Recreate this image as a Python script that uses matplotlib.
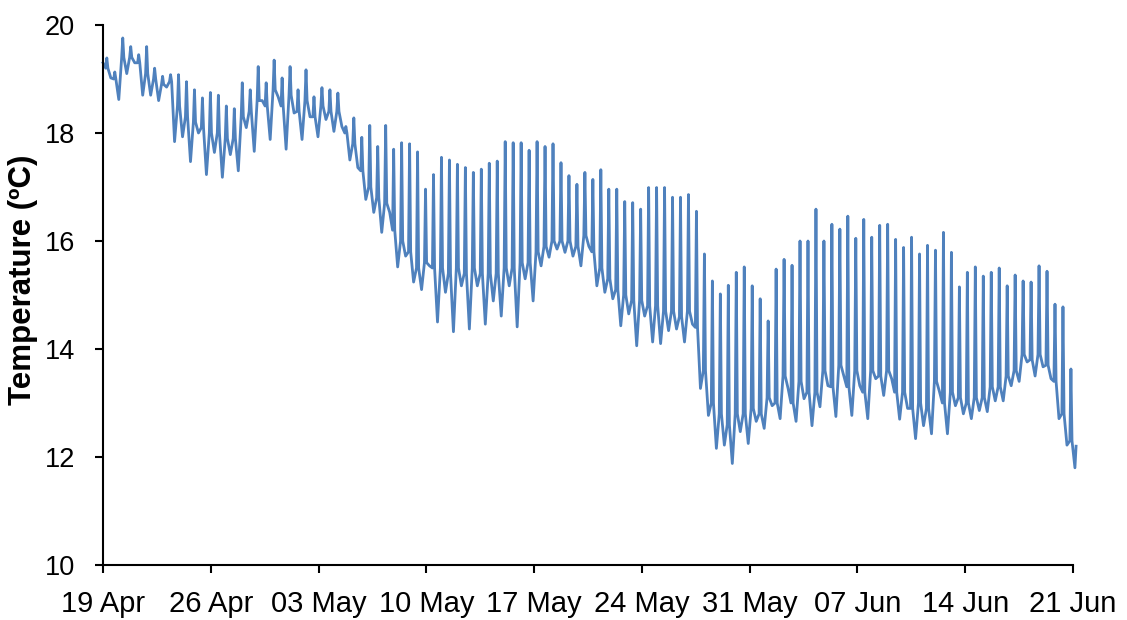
import matplotlib
matplotlib.use("Agg")
import matplotlib.pyplot as plt
import numpy as np

plt.rcParams['font.family'] = ['Liberation Sans', 'DejaVu Sans']

# ---- data ----
tick_days = [0, 7, 14, 21, 28, 35, 42, 49, 56, 63]
tick_labels = ['19 Apr', '26 Apr', '03 May', '10 May', '17 May',
               '24 May', '31 May', '07 Jun', '14 Jun', '21 Jun']
y_ticks = [10, 12, 14, 16, 18, 20]

first_peak_day = 0.248      # day of first tidal spike after 19 Apr 00:00
tide_period = 0.5175        # days per (semi-diurnal) cycle
start_value = 19.3
end_value = 12.2

# peak temperature of each tidal cycle
peaks = [
    19.39, 19.13, 19.76, 19.60, 19.45, 19.60, 19.20, 19.05, 19.08, 19.08,
    18.95, 18.80, 18.65, 18.75, 18.70, 18.50, 18.45, 18.93, 18.80, 19.23,
    18.93, 19.35, 19.02, 19.23, 18.80, 19.17, 18.67, 18.84, 18.80, 18.74,
    18.12, 18.28, 17.92, 18.14, 17.75, 18.14, 17.70, 17.82, 17.80, 17.65,
    16.96, 17.23, 17.55, 17.50, 17.42, 17.36, 17.27, 17.33, 17.44, 17.48,
    17.84, 17.82, 17.82, 17.68, 17.84, 17.75, 17.80, 17.45, 17.21, 17.05,
    17.27, 17.14, 17.32, 16.96, 16.96, 16.73, 16.71, 16.59, 16.99, 16.99,
    16.99, 16.81, 16.81, 16.86, 16.55, 15.76, 15.26, 15.02, 15.18, 15.42,
    15.52, 15.17, 14.93, 14.52, 15.48, 15.66, 15.55, 16.00, 16.00, 16.59,
    16.00, 16.31, 16.22, 16.46, 16.05, 16.40, 16.07, 16.29, 16.31, 16.03,
    15.88, 16.07, 15.76, 15.92, 15.83, 16.16, 15.79, 15.15, 15.42, 15.52,
    15.35, 15.42, 15.50, 15.17, 15.37, 15.26, 15.24, 15.54, 15.44, 14.83,
    14.78, 13.63]

# trough temperature following each peak
lows = [
    19.02, 18.62, 19.10, 19.30, 18.70, 18.70, 18.60, 18.85, 17.84, 17.93,
    17.47, 18.00, 17.23, 17.64, 17.18, 17.60, 17.30, 18.10, 17.66, 18.60,
    17.88, 18.67, 17.70, 18.37, 17.88, 18.30, 17.93, 18.25, 18.03, 18.12,
    17.50, 17.36, 16.77, 16.53, 16.16, 16.53, 15.52, 15.72, 15.24, 15.10,
    15.54, 14.50, 15.05, 14.32, 15.17, 14.37, 15.17, 14.46, 14.89, 14.61,
    15.17, 14.41, 15.30, 14.89, 15.54, 15.70, 15.85, 15.79, 15.72, 15.54,
    15.90, 15.17, 15.05, 14.93, 14.43, 14.65, 14.06, 14.61, 14.13, 14.10,
    14.34, 14.37, 14.13, 14.46, 13.27, 12.77, 12.16, 12.22, 11.88, 12.47,
    12.25, 12.66, 12.53, 12.95, 12.71, 13.27, 12.66, 13.08, 12.58, 12.93,
    13.32, 12.75, 13.50, 12.77, 13.32, 12.71, 13.45, 13.14, 13.45, 12.70,
    12.90, 12.34, 12.58, 12.43, 13.21, 12.43, 12.95, 12.80, 12.71, 12.86,
    12.84, 13.04, 13.04, 13.32, 13.40, 13.76, 13.50, 13.67, 13.45, 12.71,
    12.22, 11.80]

# plateau (base) level around each spike
bases = [
    19.20, 19.00, 19.40, 19.40, 19.30, 19.10, 19.00, 18.90, 18.95, 18.50,
    18.30, 18.20, 18.10, 18.00, 18.00, 17.90, 17.90, 18.30, 18.40, 18.60,
    18.50, 18.80, 18.50, 18.70, 18.40, 18.60, 18.30, 18.50, 18.40, 18.40,
    18.00, 17.80, 17.30, 17.00, 16.80, 16.70, 16.20, 16.00, 15.80, 15.50,
    15.60, 15.50, 15.50, 15.40, 15.50, 15.40, 15.50, 15.40, 15.40, 15.40,
    15.50, 15.50, 15.60, 15.60, 15.80, 15.90, 16.00, 16.00, 16.00, 15.90,
    16.10, 15.80, 15.50, 15.30, 15.10, 15.00, 14.90, 14.90, 14.80, 14.80,
    14.70, 14.70, 14.60, 14.70, 14.40, 13.60, 13.00, 12.80, 12.60, 12.80,
    12.80, 12.90, 12.80, 13.10, 13.00, 13.50, 13.00, 13.40, 13.20, 13.20,
    13.60, 13.30, 13.70, 13.30, 13.60, 13.20, 13.60, 13.50, 13.60, 13.20,
    13.20, 12.90, 13.00, 12.90, 13.40, 13.00, 13.20, 13.10, 13.00, 13.10,
    13.10, 13.30, 13.30, 13.50, 13.60, 13.90, 13.80, 13.90, 13.70, 13.40,
    12.80, 12.30]

# ---- build the time series from the per-cycle readings ----
t_list = [0.0]
v_list = [start_value]
for k in range(len(peaks)):
    tk = first_peak_day + k * tide_period
    t_list += [tk - 0.07, tk, tk + 0.07, tk + 0.26]
    v_list += [bases[k], peaks[k], bases[k], lows[k]]
t_list.append(63.2)
v_list.append(end_value)
t = np.array(t_list)
v = np.array(v_list)

fig = plt.figure(figsize=(11.27, 6.2), dpi=100)
ax = fig.add_axes([103 / 1127, 1 - 565 / 620, 970 / 1127, 540 / 620])

ax.plot(t, v, color='#4F81BD', lw=2.0, solid_joinstyle='round', clip_on=False)

ax.set_xlim(0, 63)
ax.set_ylim(10, 20)
ax.set_xticks(tick_days)
ax.set_xticklabels(tick_labels)
ax.set_yticks(y_ticks)
ax.set_yticklabels([str(y) for y in y_ticks])

for side in ['top', 'right']:
    ax.spines[side].set_visible(False)
for side in ['left', 'bottom']:
    ax.spines[side].set_linewidth(1.5)
    ax.spines[side].set_color('black')

ax.tick_params(axis='x', direction='out', length=6, width=1.5, pad=12,
               labelsize=21, colors='black')
ax.tick_params(axis='y', direction='out', length=6, width=1.5, pad=14,
               labelsize=19.5, colors='black')

fig.text(23 / 1127, 1 - 280 / 620, 'Temperature (ºC)', rotation=90,
         ha='center', va='center', fontsize=22.5, fontweight='bold')

fig.savefig('out.png', dpi=100)
